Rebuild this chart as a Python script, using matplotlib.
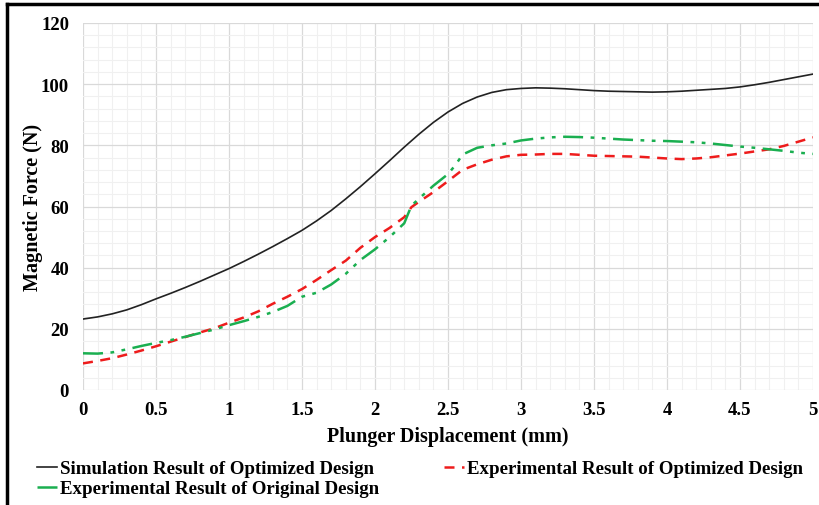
import matplotlib
matplotlib.use("Agg")
import matplotlib.pyplot as plt
from matplotlib.lines import Line2D
import numpy as np

# Simulation Result of Optimized Design
sim_x = [0, 0.1, 0.2, 0.3, 0.4, 0.5, 0.6, 0.7, 0.8, 0.9, 1.0, 1.1, 1.2, 1.3, 1.4, 1.5, 1.6, 1.7, 1.8, 1.9, 2.0,
         2.1, 2.2, 2.3, 2.4, 2.5, 2.6, 2.7, 2.8, 2.9, 3.0, 3.1, 3.2, 3.3, 3.4, 3.5, 3.6, 3.7, 3.8, 3.9, 4.0,
         4.1, 4.2, 4.3, 4.4, 4.5, 4.6, 4.7, 4.8, 4.9, 5.0]
sim_y = [23.2, 23.9, 24.9, 26.2, 27.9, 29.8, 31.6, 33.5, 35.5, 37.6, 39.7, 42.0, 44.4, 46.9, 49.5, 52.2, 55.3, 58.7, 62.5, 66.5, 70.7,
         75.0, 79.4, 83.6, 87.5, 90.9, 93.7, 95.8, 97.3, 98.2, 98.6, 98.8, 98.7, 98.5, 98.2, 97.9, 97.7, 97.6, 97.5, 97.4, 97.5,
         97.7, 98.0, 98.3, 98.6, 99.1, 99.8, 100.6, 101.5, 102.4, 103.3]

# Experimental Result of Optimized Design
opt_x = [0, 0.1, 0.2, 0.3, 0.4, 0.5, 0.6, 0.7, 0.8, 0.9, 1.0, 1.1, 1.2, 1.3, 1.4, 1.5, 1.6, 1.7, 1.8, 1.9, 2.0,
         2.1, 2.2, 2.25, 2.3, 2.4, 2.5, 2.6, 2.7, 2.8, 2.9, 3.0, 3.1, 3.2, 3.3, 3.4, 3.5, 3.6, 3.7, 3.8, 3.9, 4.0,
         4.1, 4.2, 4.3, 4.4, 4.5, 4.6, 4.7, 4.8, 4.9, 5.0]
opt_y = [8.7, 9.5, 10.4, 11.6, 12.9, 14.3, 15.8, 17.3, 18.8, 20.2, 22.0, 23.7, 25.7, 28.2, 30.5, 33.0, 36.0, 39.2, 42.3, 46.5, 50.0,
         53.0, 56.5, 59.8, 61.5, 64.7, 68.3, 72.0, 73.8, 75.3, 76.4, 76.9, 77.0, 77.2, 77.2, 76.9, 76.6, 76.5, 76.4, 76.3, 76.0, 75.7,
         75.5, 75.7, 76.1, 76.7, 77.3, 78.0, 78.7, 79.8, 81.2, 82.6]

# Experimental Result of Original Design
ori_x = [0, 0.1, 0.2, 0.3, 0.4, 0.5, 0.6, 0.7, 0.8, 0.9, 1.0, 1.1, 1.2, 1.3, 1.4, 1.5, 1.6, 1.7, 1.8, 1.9, 2.0,
         2.1, 2.2, 2.25, 2.3, 2.4, 2.5, 2.55, 2.6, 2.7, 2.8, 2.9, 3.0, 3.1, 3.2, 3.3, 3.4, 3.5, 3.6, 3.7, 3.8, 3.9, 4.0,
         4.1, 4.2, 4.3, 4.4, 4.5, 4.6, 4.7, 4.8, 4.9, 5.0]
ori_y = [12.0, 11.9, 12.3, 13.3, 14.4, 15.4, 16.3, 17.4, 18.6, 19.8, 21.2, 22.5, 23.9, 25.5, 27.5, 30.5, 31.8, 34.5, 38.0, 42.5, 46.0,
         50.0, 54.5, 60.3, 62.5, 66.8, 70.6, 73.5, 77.0, 79.2, 80.0, 80.6, 81.6, 82.2, 82.6, 82.8, 82.7, 82.5, 82.2, 81.9, 81.7, 81.5, 81.4,
         81.2, 81.0, 80.6, 80.1, 79.6, 79.2, 78.7, 78.2, 77.6, 77.2]

x_ticks = [0, 0.5, 1, 1.5, 2, 2.5, 3, 3.5, 4, 4.5, 5]
x_tick_labels = ["0", "0.5", "1", "1.5", "2", "2.5", "3", "3.5", "4", "4.5", "5"]
y_ticks = [0, 20, 40, 60, 80, 100, 120]

plt.rcParams['font.family'] = ['Liberation Serif', 'DejaVu Serif']
plt.rcParams['font.weight'] = 'bold'

fig = plt.figure(figsize=(8.2, 5.06), dpi=100)
ax = fig.add_axes([83/820, 1-391/506, (813-83)/820, (391-24)/506])

ax.set_xlim(0, 5)
ax.set_ylim(0, 120)
ax.set_xticks(x_ticks)
ax.set_xticklabels(x_tick_labels)
ax.set_yticks(y_ticks)
ax.set_xticks(np.arange(0, 5.001, 0.1), minor=True)
ax.set_yticks(np.arange(0, 120.001, 4), minor=True)
ax.grid(which='major', color='#d9d9d9', linewidth=0.9)
ax.grid(which='minor', color='#f0f0f0', linewidth=0.8)
ax.set_axisbelow(True)
for s in ax.spines.values():
    s.set_visible(False)
ax.tick_params(which='both', length=0)
ax.tick_params(axis='x', labelsize=13.5, pad=8)
ax.tick_params(axis='y', labelsize=13.5, pad=10)
for lab in ax.get_xticklabels() + ax.get_yticklabels():
    lab.set_fontweight('bold')

l1, = ax.plot(sim_x, sim_y, color='#222222', linewidth=1.2, label='Simulation Result of Optimized Design')
l2, = ax.plot(opt_x, opt_y, color='#ee1c1c', linewidth=1.8, linestyle=(0, (4, 3)), label='Experimental Result of Optimized Design')
l3, = ax.plot(ori_x, ori_y, color='#1aaf50', linewidth=1.8, linestyle=(0, (8, 3, 1.5, 3, 1.5, 3)), label='Experimental Result of Original Design')

ax.set_xlabel('Plunger Displacement (mm)', fontsize=14.5, fontweight='bold', va='center')
ax.xaxis.set_label_coords(0.5, (391-437)/367)
ax.set_ylabel('Magnetic Force (N)', fontsize=14.5, fontweight='bold', va='center')
ax.yaxis.set_label_coords((33-83)/730, 0.5)

leg = fig.legend([l1, l3, l2], [l1.get_label(), l3.get_label(), l2.get_label()],
                 ncol=2, loc='upper left', bbox_to_anchor=(37/820, 1-461/506),
                 frameon=False, fontsize=13.6, handlelength=1.05, handletextpad=0.15,
                 columnspacing=3.45, labelspacing=0.15, borderaxespad=0, borderpad=0)
for t in leg.get_texts():
    t.set_fontweight('bold')

fig.add_artist(Line2D([7/820, 7/820], [0, 1-5/506], color='black', linewidth=2.5, transform=fig.transFigure))
fig.add_artist(Line2D([7/820, 1], [1-5/506, 1-5/506], color='black', linewidth=2.5, transform=fig.transFigure))

fig.savefig('out.png', dpi=100)
